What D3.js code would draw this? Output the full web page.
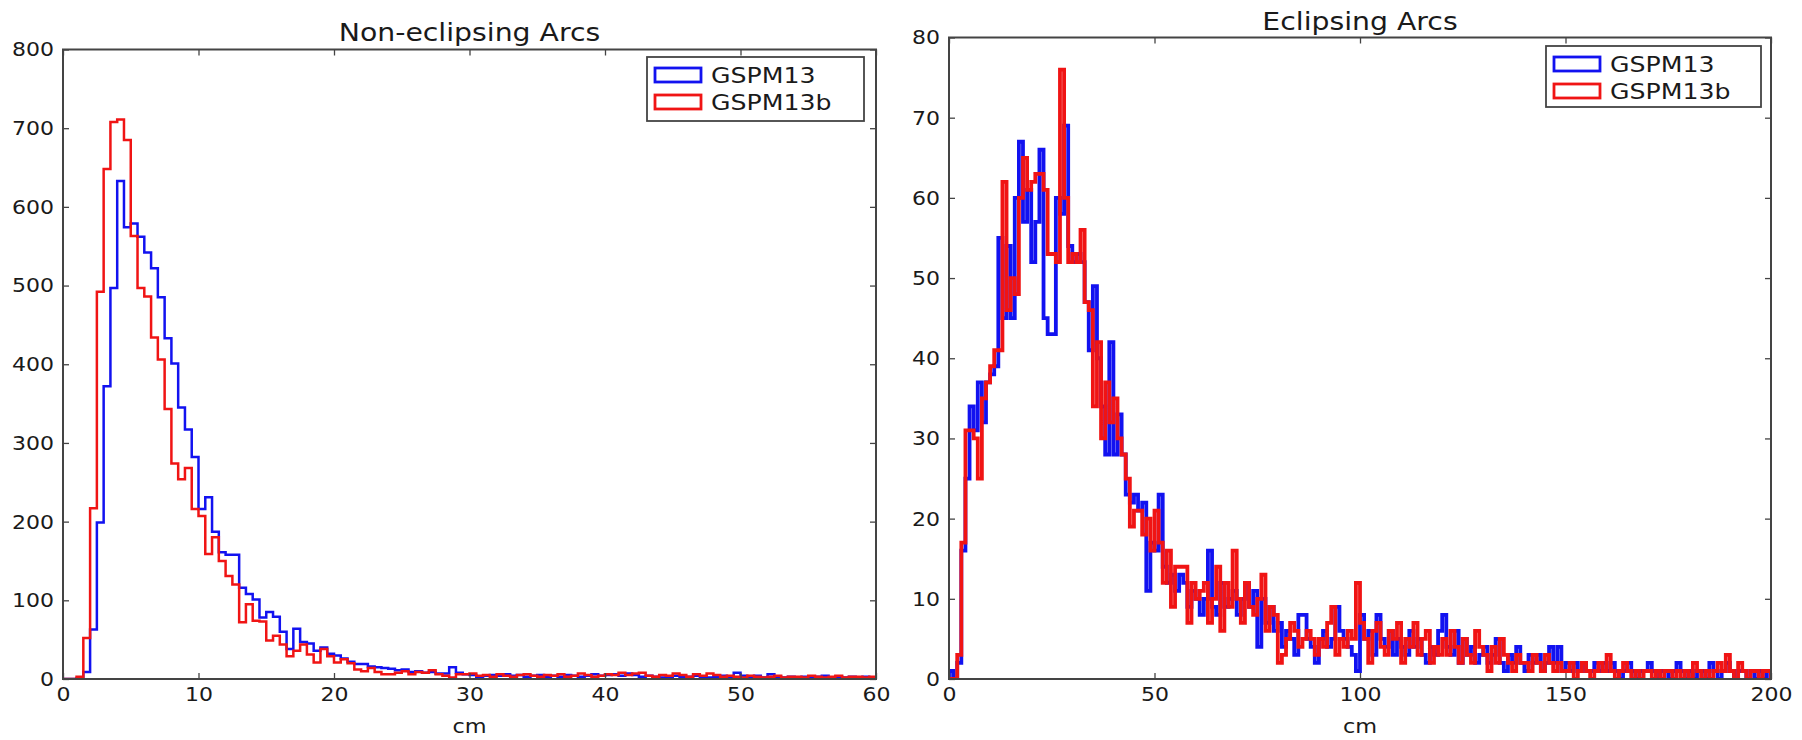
<!DOCTYPE html>
<html>
<head>
<meta charset="utf-8">
<script src="https://cdnjs.cloudflare.com/ajax/libs/d3/7.8.5/d3.min.js"></script>
<style>
  body { margin: 0; background: #fff; }
  text { font-family: "DejaVu Sans", sans-serif; fill: #1a1a1a; }
  .spine { fill: none; stroke: #444; stroke-width: 2px; }
  .tick line { stroke: #444; stroke-width: 1.3px; }
  .legend-box { fill: #fff; stroke: #444; stroke-width: 1.8px; }
</style>
</head>
<body>
<svg id="chart" width="1802" height="740"></svg>
<script>
// ---- data ----
const seriesNames = ["GSPM13", "GSPM13b"];
const seriesColors = ["#1212f0", "#f01414"];

// Non-eclipsing arcs: 0.5 cm bins, 0..60 cm
const nonEclBinWidth = 0.5;
const nonEclGSPM13 = [
  0, 0, 1, 9, 63, 199, 372, 497, 633, 574,
  579, 562, 542, 522, 485, 433, 401, 345, 317, 282,
  216, 231, 187, 161, 158, 158, 116, 108, 101, 78,
  85, 79, 60, 38, 64, 47, 45, 36, 40, 32,
  30, 26, 22, 19, 19, 16, 15, 14, 13, 11,
  12, 9, 10, 8, 9, 7, 7, 15, 8, 6,
  5, 3, 4, 5, 4, 6, 4, 5, 3, 4,
  5, 3, 4, 3, 5, 4, 3, 4, 6, 4,
  5, 6, 4, 7, 5, 3, 4, 3, 2, 3,
  4, 3, 3, 4, 3, 2, 3, 4, 3, 8,
  4, 3, 4, 2, 6, 3, 2, 3, 2, 3,
  2, 3, 4, 2, 3, 2, 3, 2, 3, 2
];
const nonEclGSPM13b = [
  0, 0, 3, 52, 217, 492, 648, 708, 711, 685,
  563, 497, 486, 434, 406, 343, 274, 254, 268, 216,
  207, 159, 180, 150, 131, 120, 72, 95, 74, 73,
  49, 55, 44, 29, 36, 44, 31, 21, 38, 29,
  21, 25, 20, 12, 10, 14, 9, 6, 6, 8,
  10, 6, 9, 8, 11, 6, 4, 2, 6, 6,
  7, 4, 5, 3, 6, 4, 3, 5, 6, 4,
  3, 5, 4, 6, 3, 4, 7, 5, 3, 4,
  6, 5, 8, 5, 7, 8, 4, 3, 5, 4,
  7, 5, 3, 6, 4, 7, 5, 3, 4, 3,
  2, 4, 3, 2, 3, 4, 2, 3, 3, 2,
  4, 3, 2, 3, 4, 2, 3, 3, 2, 3
];

// Eclipsing arcs: 1 cm bins, 0..200 cm
const eclBinWidth = 1;
const eclGSPM13 = [
  1, 0, 2, 16, 25, 34, 31, 37, 32, 37,
  38, 39, 55, 45, 54, 45, 60, 67, 57, 61,
  52, 57, 66, 45, 43, 43, 60, 58, 69, 54,
  52, 53, 52, 47, 41, 49, 40, 34, 28, 42,
  28, 33, 28, 23, 22, 23, 21, 22, 11, 17,
  16, 23, 14, 12, 13, 11, 13, 12, 9, 11,
  10, 8, 10, 16, 9, 8, 12, 9, 10, 11,
  8, 10, 12, 9, 11, 4, 10, 7, 9, 6,
  7, 4, 6, 5, 3, 8, 8, 5, 4, 2,
  5, 6, 4, 5, 9, 6, 5, 4, 3, 1,
  8, 5, 6, 3, 8, 5, 4, 6, 3, 5,
  4, 3, 6, 4, 5, 3, 2, 4, 3, 6,
  8, 4, 3, 6, 2, 5, 3, 4, 2, 3,
  4, 2, 3, 5, 2, 1, 3, 2, 4, 2,
  1, 3, 2, 3, 1, 2, 4, 2, 4, 1,
  2, 1, 2, 1, 2, 1, 1, 2, 1, 2,
  1, 2, 1, 0, 1, 2, 1, 0, 1, 1,
  2, 1, 0, 1, 1, 0, 1, 2, 1, 0,
  1, 0, 1, 1, 0, 2, 1, 0, 1, 2,
  1, 0, 1, 1, 0, 1, 0, 1, 0, 1
];
const eclGSPM13b = [
  0, 0, 3, 17, 31, 31, 30, 25, 35, 37,
  39, 41, 41, 62, 46, 50, 48, 60, 65, 61,
  62, 63, 63, 61, 53, 53, 52, 76, 60, 52,
  53, 52, 56, 47, 46, 34, 42, 30, 37, 32,
  35, 30, 28, 25, 19, 21, 21, 18, 20, 16,
  21, 17, 12, 16, 9, 14, 14, 14, 7, 12,
  10, 11, 12, 7, 10, 14, 6, 12, 9, 16,
  10, 7, 12, 9, 8, 10, 13, 6, 9, 8,
  2, 3, 5, 7, 6, 4, 5, 6, 5, 3,
  5, 4, 7, 9, 3, 5, 4, 6, 5, 12,
  7, 5, 2, 6, 7, 4, 3, 6, 5, 7,
  2, 5, 4, 7, 3, 5, 6, 2, 4, 3,
  5, 3, 6, 4, 2, 5, 3, 2, 6, 4,
  3, 1, 4, 2, 5, 3, 2, 1, 3, 2,
  2, 1, 3, 2, 1, 3, 2, 1, 2, 1,
  1, 2, 0, 1, 2, 1, 0, 1, 2, 1,
  3, 1, 0, 1, 2, 1, 0, 1, 0, 1,
  1, 0, 1, 0, 1, 1, 0, 1, 0, 1,
  0, 2, 1, 0, 1, 0, 1, 2, 1, 3,
  1, 0, 2, 1, 0, 1, 1, 0, 1, 1
];

const nonEclXTicks = [0, 10, 20, 30, 40, 50, 60];
const nonEclYTicks = [0, 100, 200, 300, 400, 500, 600, 700, 800];
const eclXTicks = [0, 50, 100, 150, 200];
const eclYTicks = [0, 10, 20, 30, 40, 50, 60, 70, 80];

// ---- drawing ----
const svg = d3.select("#chart");
const stretch = 1.18;   // the source picture is a little wider than tall

const panels = [
  { title: "Non-eclipsing Arcs", left: 63, right: 876, top: 49.5, bottom: 679,
    xMax: 60, yMax: 800, xTicks: nonEclXTicks, yTicks: nonEclYTicks,
    bin: nonEclBinWidth, series: [nonEclGSPM13, nonEclGSPM13b], lw: 2.5,
    legend: { x: 647, y: 57, w: 217, h: 64 }, titleY: 41 },
  { title: "Eclipsing Arcs", left: 949, right: 1771, top: 37.5, bottom: 679,
    xMax: 200, yMax: 80, xTicks: eclXTicks, yTicks: eclYTicks,
    bin: eclBinWidth, series: [eclGSPM13, eclGSPM13b], lw: 3.8,
    legend: { x: 1546, y: 46, w: 215, h: 61 }, titleY: 30 }
];

function stepPoints(values, bin) {
  const pts = [[0, 0]];
  values.forEach((v, i) => pts.push([i * bin, v]));
  pts.push([values.length * bin, 0]);
  return pts;
}

function widen(sel, s) {
  sel.each(function () {
    const t = d3.select(this);
    const tx = +t.attr("x") || 0;
    t.attr("x", 0).attr("transform", `translate(${tx},0) scale(${s},1)`);
  });
}

panels.forEach((p, pi) => {
  const x = d3.scaleLinear().domain([0, p.xMax]).range([p.left, p.right]);
  const y = d3.scaleLinear().domain([0, p.yMax]).range([p.bottom, p.top]);
  const g = svg.append("g");

  const clipId = "clip" + pi;
  svg.append("clipPath").attr("id", clipId)
    .append("rect")
    .attr("x", p.left).attr("y", p.top)
    .attr("width", p.right - p.left).attr("height", p.bottom - p.top);

  const line = d3.line()
    .x(d => x(d[0]))
    .y(d => y(d[1]))
    .curve(d3.curveStepAfter);

  p.series.forEach((vals, si) => {
    g.append("path")
      .attr("clip-path", "url(#" + clipId + ")")
      .attr("d", line(stepPoints(vals, p.bin)))
      .attr("fill", "none")
      .attr("stroke", seriesColors[si])
      .attr("stroke-width", p.lw);
  });

  // axes, ticks pointing inward
  const ax = (gen, tx, ty, labels, pad) => {
    const a = g.append("g").attr("transform", `translate(${tx},${ty})`)
      .call(gen.tickSizeInner(-6).tickSizeOuter(0).tickPadding(pad)
        .tickFormat(labels ? d3.format("d") : ""));
    a.select(".domain").remove();
    a.selectAll("text").style("font-size", "20px").attr("fill", "#1a1a1a");
    widen(a.selectAll("text"), 1.1);
    return a;
  };
  ax(d3.axisBottom(x).tickValues(p.xTicks), 0, p.bottom, true, 8);
  ax(d3.axisTop(x).tickValues(p.xTicks), 0, p.top, false, 8);
  ax(d3.axisLeft(y).tickValues(p.yTicks), p.left, 0, true, 9);
  ax(d3.axisRight(y).tickValues(p.yTicks), p.right, 0, false, 9);

  g.append("rect").attr("class", "spine")
    .attr("x", p.left).attr("y", p.top)
    .attr("width", p.right - p.left).attr("height", p.bottom - p.top);

  const title = g.append("text")
    .attr("x", (p.left + p.right) / 2).attr("y", p.titleY)
    .attr("text-anchor", "middle").style("font-size", "24px")
    .text(p.title);
  widen(title, stretch);

  const xl = g.append("text")
    .attr("x", (p.left + p.right) / 2).attr("y", 733)
    .attr("text-anchor", "middle").style("font-size", "19px")
    .text("cm");
  widen(xl, stretch);

  // legend
  const L = p.legend;
  const lg = g.append("g").attr("transform", `translate(${L.x},${L.y})`);
  lg.append("rect").attr("class", "legend-box")
    .attr("width", L.w).attr("height", L.h);
  seriesNames.forEach((name, si) => {
    const cy = 18 + si * 27;
    lg.append("rect")
      .attr("x", 8).attr("y", cy - 7)
      .attr("width", 46).attr("height", 14)
      .attr("fill", "none")
      .attr("stroke", seriesColors[si])
      .attr("stroke-width", 2.8);
    const t = lg.append("text")
      .attr("x", 64).attr("y", cy)
      .attr("dy", "0.36em")
      .style("font-size", "21px")
      .text(name);
    widen(t, 1.2);
  });
});
</script>
</body>
</html>
